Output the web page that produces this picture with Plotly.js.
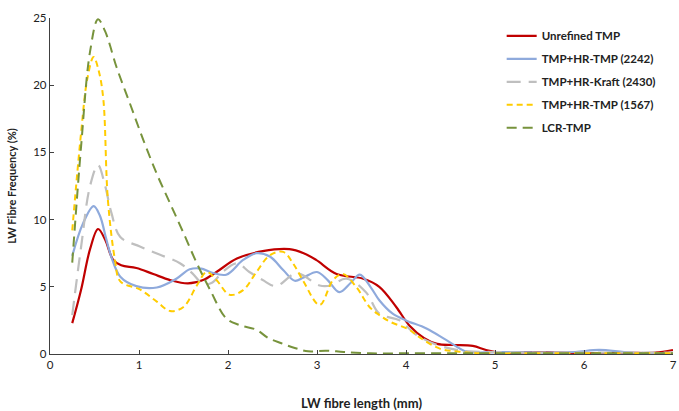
<!DOCTYPE html>
<html>
<head>
<meta charset="utf-8">
<script src="https://cdn.plot.ly/plotly-3.0.1.min.js"></script>
<style>html,body{margin:0;padding:0;background:#fff;}#chart{width:679px;height:411px;}</style>
</head>
<body>
<div id="chart"></div>
<script>
// Series names
var seriesNames = ["Unrefined TMP", "TMP+HR-TMP (2242)", "TMP+HR-Kraft (2430)", "TMP+HR-TMP (1567)", "LCR-TMP"];

// Unrefined TMP
var lenUnrefined = [0.25, 0.35, 0.45, 0.54, 0.62, 0.71, 0.8, 0.97, 1.16, 1.35, 1.55, 1.72, 1.87, 2.1, 2.39, 2.69, 2.85, 2.99, 3.22, 3.52, 3.70, 3.89, 4.04, 4.2, 4.35, 4.53, 4.75, 4.9, 5.05, 5.5, 6.0, 6.5, 6.8, 7.0];
var freqUnrefined = [2.3, 4.8, 7.8, 9.3, 8.5, 7.0, 6.6, 6.4, 5.95, 5.5, 5.25, 5.5, 6.1, 7.1, 7.65, 7.8, 7.5, 7.0, 5.95, 5.6, 5.0, 3.5, 2.1, 1.2, 0.75, 0.67, 0.6, 0.3, 0.1, 0.15, 0.05, 0.08, 0.1, 0.3];

// TMP+HR-TMP (2242)
var len2242 = [0.25, 0.37, 0.49, 0.56, 0.63, 0.69, 0.79, 0.97, 1.2, 1.42, 1.57, 1.7, 1.8, 1.98, 2.17, 2.32, 2.47, 2.62, 2.75, 2.85, 3.0, 3.12, 3.25, 3.38, 3.48, 3.6, 3.70, 3.85, 4.0, 4.23, 4.45, 4.68, 4.9, 5.2, 5.6, 5.9, 6.17, 6.45, 6.7, 7.0];
var freq2242 = [7.3, 9.7, 11.0, 10.3, 8.6, 7.2, 5.75, 5.05, 4.95, 5.6, 6.3, 6.35, 6.1, 5.9, 7.0, 7.5, 7.25, 6.25, 5.45, 5.7, 6.1, 5.5, 4.6, 5.3, 5.9, 5.0, 4.0, 3.0, 2.5, 1.9, 1.05, 0.17, 0.12, 0.15, 0.1, 0.15, 0.3, 0.15, 0.05, 0.05];

// TMP+HR-Kraft (2430)
var len2430 = [0.25, 0.35, 0.45, 0.54, 0.62, 0.69, 0.79, 1.01, 1.23, 1.46, 1.6, 1.72, 1.82, 1.94, 2.1, 2.24, 2.39, 2.54, 2.77, 3.03, 3.15, 3.33, 3.55, 3.70, 3.93, 4.1, 4.3, 4.5, 4.7, 5.0, 5.5, 6.0, 6.5, 7.0];
var freq2430 = [2.9, 8.0, 12.5, 14.06, 12.5, 10.5, 8.7, 8.0, 7.4, 6.75, 6.0, 5.2, 5.3, 6.1, 6.75, 6.1, 5.5, 5.05, 6.0, 5.1, 5.1, 5.6, 4.6, 3.0, 2.5, 1.5, 0.8, 0.4, 0.2, 0.15, 0.1, 0.1, 0.1, 0.1];

// TMP+HR-TMP (1567)
var len1567 = [0.25, 0.35, 0.42, 0.49, 0.55, 0.60, 0.65, 0.73, 0.79, 1.01, 1.2, 1.35, 1.5, 1.65, 1.76, 1.87, 2.02, 2.17, 2.32, 2.47, 2.62, 2.73, 2.84, 3.03, 3.18, 3.29, 3.44, 3.59, 3.70, 3.82, 4.04, 4.15, 4.38, 4.6, 4.83, 5.2, 5.6, 6.0, 6.5, 7.0];
var freq1567 = [9.2, 16.5, 20.5, 22.1, 21.0, 18.9, 11.5, 7.0, 5.4, 4.8, 3.9, 3.2, 3.5, 5.1, 6.1, 5.5, 4.4, 4.75, 6.1, 7.35, 7.6, 6.75, 5.5, 3.65, 5.5, 5.95, 5.0, 3.5, 2.9, 2.4, 1.8, 1.25, 0.4, 0.17, 0.05, 0.05, 0.05, 0.05, 0.05, 0.05];

// LCR-TMP
var lenLCR = [0.25, 0.35, 0.45, 0.54, 0.62, 0.75, 0.9, 1.05, 1.2, 1.35, 1.5, 1.65, 1.8, 1.98, 2.13, 2.32, 2.45, 2.6, 2.75, 2.9, 3.1, 3.3, 3.6, 4.0, 4.5, 5.0, 5.5, 6.0, 6.5, 7.0];
var freqLCR = [6.8, 15.5, 22.5, 24.9, 24.0, 21.3, 18.6, 15.9, 13.4, 11.2, 9.0, 6.75, 4.76, 2.65, 2.15, 1.8, 1.2, 0.8, 0.45, 0.2, 0.25, 0.15, 0.05, 0.05, 0.05, 0.05, 0.05, 0.05, 0.05, 0.05];

// Axis ticks
var xTicks = [0, 1, 2, 3, 4, 5, 6, 7];
var yTicks = [0, 5, 10, 15, 20, 25];

var xs = [lenUnrefined, len2242, len2430, len1567, lenLCR];
var ys = [freqUnrefined, freq2242, freq2430, freq1567, freqLCR];
var colors = ["#C00000", "#8FAADC", "#BFBFBF", "#FFCC00", "#77933C"];
var dashes = ["solid", "solid", "14px,8px", "6px,4px", "10px,6px"];
var widths = [2.2, 2.2, 2.2, 2, 2];

var traces = [];
for (var i = 0; i < xs.length; i++) {
  traces.push({
    x: xs[i], y: ys[i], type: "scatter", mode: "lines", name: seriesNames[i],
    legendgroup: "g" + i,
    line: {color: colors[i], width: widths[i], dash: dashes[i], shape: "spline", smoothing: 1},
    cliponaxis: true
  });
}

var fontFam = "Lato, 'Open Sans', sans-serif";
var layout = {
  width: 679, height: 411,
  margin: {l: 50, r: 6, t: 18, b: 57},
  paper_bgcolor: "#fff", plot_bgcolor: "#fff",
  showlegend: true,
  legend: {
    x: 0.725, y: 0.99, xanchor: "left", yanchor: "top",
    font: {family: fontFam, size: 11.5, color: "#222", weight: "bold"},
    traceorder: "grouped", tracegroupgap: 4, bgcolor: "rgba(0,0,0,0)"
  },
  xaxis: {
    range: [0, 7], tickvals: xTicks, ticktext: xTicks.map(String),
    showgrid: false, zeroline: false, showline: true, linecolor: "#404040", linewidth: 1.2,
    ticks: "inside", ticklen: 4, tickcolor: "#404040",
    tickfont: {family: fontFam, size: 11.5, color: "#222"},
    title: {text: "LW fibre length (mm)", font: {family: fontFam, size: 13, color: "#222", weight: "bold"}, standoff: 28},
    automargin: false, fixedrange: true
  },
  yaxis: {
    range: [0, 25], tickvals: yTicks, ticktext: yTicks.map(String),
    showgrid: false, zeroline: false, showline: true, linecolor: "#404040", linewidth: 1.2,
    ticks: "inside", ticklen: 4, tickcolor: "#404040",
    tickfont: {family: fontFam, size: 11.5, color: "#222"},
    title: {text: "LW Fibre Frequency (%)", font: {family: fontFam, size: 11, color: "#222", weight: "bold"}, standoff: 14},
    automargin: false, fixedrange: true
  }
};

Plotly.newPlot("chart", traces, layout, {displayModeBar: false, staticPlot: true});
</script>
</body>
</html>
